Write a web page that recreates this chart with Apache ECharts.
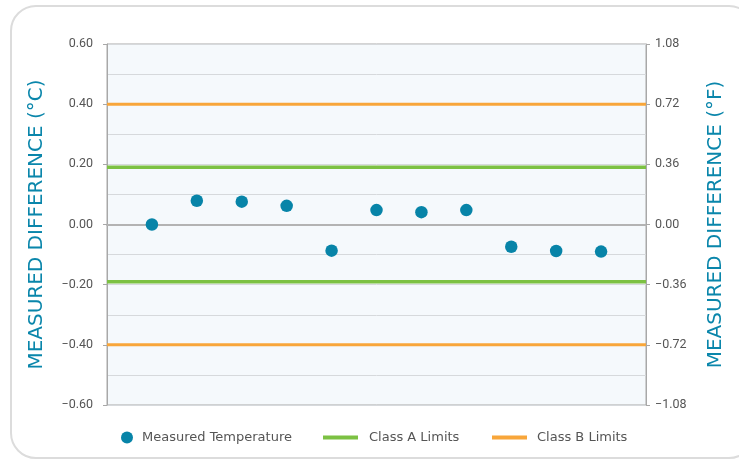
<!DOCTYPE html>
<html>
<head>
<meta charset="utf-8">
<script src="https://cdn.jsdelivr.net/npm/echarts@6/dist/echarts.min.js"></script>
<style>
html,body{margin:0;padding:0;background:#fff;}
#card{position:absolute;left:10px;top:5px;width:745px;height:454px;border:2px solid #dcdcdc;border-radius:26px;box-sizing:border-box;}
#chart{position:absolute;left:0;top:0;width:739px;height:464px;}
</style>
</head>
<body>
<div id="card"></div>
<div id="chart"></div>
<script>
const sampleIndex = [1,2,3,4,5,6,7,8,9,10,11];
const measured = [0.000,0.079,0.076,0.062,-0.087,0.048,0.041,0.048,-0.074,-0.088,-0.090];
const classALimit = 0.19;
const classBLimit = 0.40;
const leftTicks = {min:-0.6,max:0.6,interval:0.2};
const rightTicks = {min:-1.08,max:1.08,interval:0.36};

function fmt(v){
  const s = Math.abs(v).toFixed(2);
  return (v < -1e-9 ? '\u2212' : '') + s;
}

const chart = echarts.init(document.getElementById('chart'));
const textColor = '#555';
const titleColor = '#0a86ab';
const fontFam = 'Roboto, "Open Sans", sans-serif';
const wideFam = '"DejaVu Sans", sans-serif';

const scatterData = sampleIndex.map((x,i)=>[x, measured[i]]);
function hline(v){ return [[0,v],[12,v]]; }

chart.setOption({
  animation:false,
  grid:{left:107,right:93,top:44,bottom:59,show:true,backgroundColor:'#f5f9fc',borderColor:'#a8a8a8',borderWidth:1},
  xAxis:{type:'value',min:0,max:12,axisLabel:{show:false},axisTick:{show:false},splitLine:{show:false},
    axisLine:{show:true,onZero:true,lineStyle:{color:'#b3b3b3',width:2}}},
  yAxis:[
    {type:'value',position:'left',min:leftTicks.min,max:leftTicks.max,interval:leftTicks.interval,
     name:'MEASURED DIFFERENCE (°C)',nameLocation:'middle',nameRotate:90,nameGap:60,
     nameTextStyle:{color:titleColor,fontSize:20,fontWeight:'normal',fontFamily:wideFam},
     axisLine:{show:true,lineStyle:{color:'#a8a8a8'}},
     axisTick:{show:true,length:4,lineStyle:{color:'#a8a8a8'}},
     axisLabel:{color:textColor,fontSize:12.5,fontFamily:fontFam,margin:14,formatter:fmt},
     splitLine:{show:true,lineStyle:{color:'#d6d9dc'}},
     minorTick:{show:false,splitNumber:2},
     minorSplitLine:{show:true,lineStyle:{color:'#d6d9dc'}}},
    {type:'value',position:'right',min:rightTicks.min,max:rightTicks.max,interval:rightTicks.interval,
     name:'MEASURED DIFFERENCE (°F)',nameLocation:'middle',nameRotate:90,nameGap:60,
     nameTextStyle:{color:titleColor,fontSize:20,fontWeight:'normal',fontFamily:wideFam},
     axisLine:{show:true,lineStyle:{color:'#a8a8a8'}},
     axisTick:{show:true,length:4,lineStyle:{color:'#a8a8a8'}},
     axisLabel:{color:textColor,fontSize:12.5,fontFamily:fontFam,margin:9,formatter:fmt},
     splitLine:{show:false}}
  ],
  legend:[
    {left:121,top:431,padding:0,itemWidth:12,itemHeight:12,icon:'circle',
     textStyle:{color:textColor,fontSize:13,fontFamily:wideFam,padding:[0,0,0,4]},data:['Measured Temperature']},
    {left:323,top:431,padding:0,itemWidth:35,itemHeight:4,icon:'rect',
     textStyle:{color:textColor,fontSize:13,fontFamily:wideFam,padding:[0,0,0,6]},data:['Class A Limits']},
    {left:492,top:431,padding:0,itemWidth:35,itemHeight:4,icon:'rect',
     textStyle:{color:textColor,fontSize:13,fontFamily:wideFam,padding:[0,0,0,5]},data:['Class B Limits']}
  ],
  series:[
    {name:'Class A Limits',type:'line',data:hline(classALimit),symbol:'none',silent:true,
     lineStyle:{color:'#7cc143',width:3.5},itemStyle:{color:'#7cc143'}},
    {name:'Class A Limits',type:'line',data:hline(-classALimit),symbol:'none',silent:true,
     lineStyle:{color:'#7cc143',width:3.5},itemStyle:{color:'#7cc143'}},
    {name:'Class B Limits',type:'line',data:hline(classBLimit),symbol:'none',silent:true,
     lineStyle:{color:'#f8a63a',width:3},itemStyle:{color:'#f8a63a'}},
    {name:'Class B Limits',type:'line',data:hline(-classBLimit),symbol:'none',silent:true,
     lineStyle:{color:'#f8a63a',width:3},itemStyle:{color:'#f8a63a'}},
    {name:'Measured Temperature',type:'scatter',data:scatterData,symbolSize:12.5,
     itemStyle:{color:'#0784a8',opacity:1},z:5}
  ]
});
</script>
</body>
</html>
